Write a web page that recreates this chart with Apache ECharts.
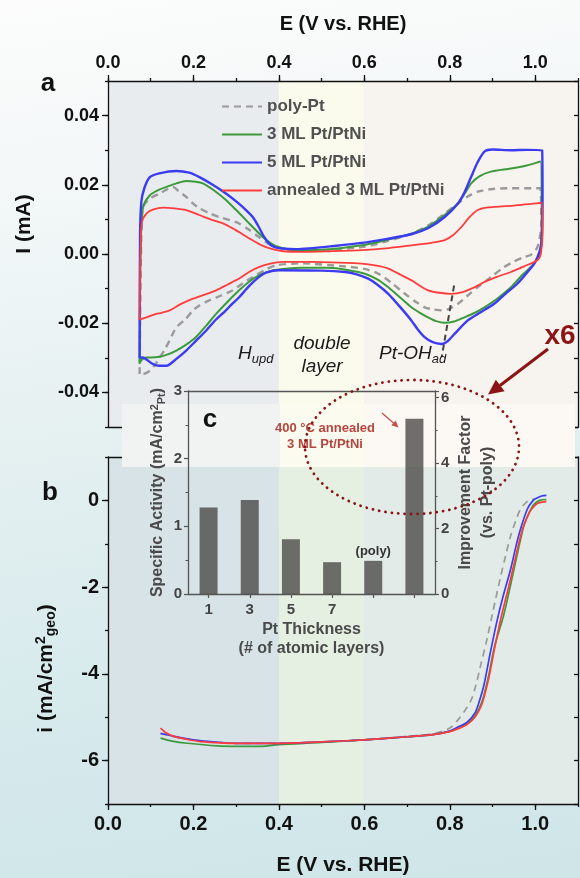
<!DOCTYPE html>
<html><head><meta charset="utf-8">
<script src="https://cdn.jsdelivr.net/npm/echarts@6/dist/echarts.min.js"></script>
<style>
html,body{margin:0;padding:0;}
#c{width:580px;height:878px;background:linear-gradient(172deg,#fcfcfc 0%,#f2f7f7 22%,#e3eff0 50%,#d6eaec 75%,#cfe5e8 100%);}
</style>
</head><body><div id="c"></div>
<script>
// ---------- DATA ----------
const seriesNames = ['poly-Pt', '3 ML Pt/PtNi', '5 ML Pt/PtNi', 'annealed 3 ML Pt/PtNi'];
const seriesColors = ['#9a9a9a', '#3c9a3c', '#3b3bf2', '#ff3c3c'];

// (a) cyclic voltammograms: [E (V vs RHE), I (mA)]
const cvPoly = [[0.074,-0.0347],[0.076,-0.010],[0.078,0.005],[0.082,0.0136],[0.098,0.0160],[0.121,0.0175],[0.14,0.0188],[0.152,0.0194],[0.165,0.0182],[0.183,0.0165],[0.2,0.0145],[0.214,0.0132],[0.237,0.0118],[0.26,0.0107],[0.285,0.0098],[0.307,0.0088],[0.33,0.0070],[0.353,0.0049],[0.375,0.0030],[0.392,0.0020],[0.42,0.0013],[0.477,0.0011],[0.594,0.0020],[0.65,0.0036],[0.71,0.0059],[0.75,0.0083],[0.788,0.0117],[0.819,0.0146],[0.84,0.0165],[0.865,0.0180],[0.9,0.0188],[0.943,0.0190],[1.012,0.0190],[1.014,0.008],[1.005,0.002],[0.99,-0.0002],[0.973,-0.0009],[0.95,-0.0022],[0.927,-0.0038],[0.90,-0.0063],[0.865,-0.0096],[0.84,-0.0122],[0.819,-0.0144],[0.80,-0.0158],[0.78,-0.0163],[0.76,-0.0160],[0.741,-0.0154],[0.72,-0.0138],[0.695,-0.0115],[0.665,-0.0085],[0.633,-0.0057],[0.6,-0.0043],[0.555,-0.0036],[0.45,-0.0027],[0.392,-0.0033],[0.365,-0.0048],[0.338,-0.0067],[0.315,-0.0085],[0.292,-0.0105],[0.265,-0.0120],[0.237,-0.0134],[0.215,-0.0148],[0.199,-0.0163],[0.18,-0.0190],[0.16,-0.0212],[0.144,-0.0250],[0.132,-0.0278],[0.121,-0.0299],[0.11,-0.0320],[0.098,-0.0337],[0.082,-0.0347],[0.074,-0.0347]];
const cv3ML = [[0.074,-0.0318],[0.076,0.0],[0.079,0.010],[0.083,0.0140],[0.098,0.0170],[0.12,0.0186],[0.137,0.0194],[0.16,0.0204],[0.183,0.0211],[0.205,0.0209],[0.222,0.0204],[0.25,0.0182],[0.276,0.0156],[0.30,0.0127],[0.323,0.0098],[0.345,0.0070],[0.362,0.0049],[0.38,0.0032],[0.392,0.0023],[0.42,0.0014],[0.447,0.0011],[0.52,0.0014],[0.594,0.0025],[0.65,0.0040],[0.71,0.0059],[0.745,0.0076],[0.772,0.0098],[0.80,0.0125],[0.819,0.0146],[0.835,0.0175],[0.85,0.0204],[0.87,0.0225],[0.896,0.0238],[0.943,0.0247],[0.98,0.0256],[1.012,0.0267],[1.015,0.012],[1.012,0.001],[0.997,-0.0028],[0.97,-0.0060],[0.943,-0.0096],[0.91,-0.0130],[0.881,-0.0154],[0.855,-0.0172],[0.834,-0.0183],[0.81,-0.0195],[0.788,-0.0199],[0.768,-0.0194],[0.749,-0.0183],[0.73,-0.0170],[0.71,-0.0154],[0.685,-0.0127],[0.656,-0.0096],[0.63,-0.0073],[0.601,-0.0057],[0.56,-0.0046],[0.516,-0.0040],[0.45,-0.0040],[0.40,-0.0045],[0.37,-0.0053],[0.353,-0.0062],[0.33,-0.0080],[0.307,-0.0105],[0.28,-0.0138],[0.253,-0.0173],[0.23,-0.0207],[0.206,-0.0240],[0.183,-0.0262],[0.16,-0.0279],[0.14,-0.0290],[0.121,-0.0297],[0.10,-0.0299],[0.09,-0.0299],[0.08,-0.0305],[0.074,-0.0315]];
const cv5ML = [[0.074,-0.0300],[0.075,0.005],[0.078,0.015],[0.085,0.0190],[0.098,0.0222],[0.12,0.0233],[0.16,0.0240],[0.19,0.0235],[0.214,0.0222],[0.245,0.0200],[0.276,0.0175],[0.30,0.0152],[0.323,0.0127],[0.34,0.0105],[0.353,0.0078],[0.365,0.0050],[0.377,0.0030],[0.39,0.0020],[0.407,0.0016],[0.44,0.0014],[0.47,0.0016],[0.52,0.0022],[0.594,0.0032],[0.65,0.0043],[0.71,0.0057],[0.75,0.0075],[0.788,0.0107],[0.819,0.0146],[0.835,0.0180],[0.85,0.0223],[0.865,0.0265],[0.881,0.0296],[0.90,0.0302],[0.943,0.0300],[0.98,0.0301],[1.016,0.0300],[1.017,0.015],[1.014,0.003],[1.0,-0.0023],[0.98,-0.0055],[0.958,-0.0086],[0.93,-0.0115],[0.904,-0.0144],[0.87,-0.0170],[0.842,-0.0192],[0.811,-0.0231],[0.795,-0.0252],[0.78,-0.0260],[0.76,-0.0255],[0.741,-0.0240],[0.725,-0.0218],[0.71,-0.0192],[0.685,-0.0155],[0.656,-0.0115],[0.63,-0.0088],[0.609,-0.0071],[0.58,-0.0058],[0.555,-0.0052],[0.5,-0.0048],[0.4,-0.0047],[0.37,-0.0054],[0.353,-0.0067],[0.33,-0.0093],[0.307,-0.0125],[0.29,-0.0145],[0.276,-0.0163],[0.25,-0.0193],[0.23,-0.0221],[0.205,-0.0252],[0.183,-0.0279],[0.16,-0.0303],[0.137,-0.0323],[0.12,-0.0323],[0.105,-0.0318],[0.09,-0.0305],[0.082,-0.0299],[0.074,-0.0300]];
const cvAnnealed = [[0.074,-0.0190],[0.075,-0.005],[0.077,0.005],[0.080,0.0095],[0.09,0.0117],[0.105,0.0128],[0.129,0.0134],[0.155,0.0132],[0.183,0.0127],[0.215,0.0112],[0.245,0.0098],[0.27,0.0088],[0.292,0.0074],[0.315,0.0057],[0.338,0.0040],[0.36,0.0025],[0.385,0.0014],[0.41,0.0008],[0.447,0.0006],[0.52,0.0008],[0.594,0.0011],[0.65,0.0016],[0.71,0.0025],[0.76,0.0033],[0.788,0.0040],[0.808,0.0055],[0.827,0.0078],[0.845,0.0105],[0.865,0.0127],[0.885,0.0134],[0.904,0.0136],[0.95,0.0140],[0.99,0.0145],[1.016,0.0148],[1.017,0.006],[1.013,0.0],[1.005,-0.0018],[0.975,-0.0035],[0.943,-0.0052],[0.91,-0.0066],[0.881,-0.0081],[0.86,-0.0095],[0.83,-0.0110],[0.803,-0.0115],[0.775,-0.0112],[0.749,-0.0105],[0.73,-0.0092],[0.71,-0.0076],[0.685,-0.0060],[0.656,-0.0042],[0.625,-0.0033],[0.594,-0.0028],[0.54,-0.0025],[0.477,-0.0023],[0.408,-0.0023],[0.38,-0.0028],[0.353,-0.0038],[0.33,-0.0052],[0.307,-0.0071],[0.28,-0.0088],[0.253,-0.0105],[0.225,-0.0118],[0.199,-0.0129],[0.17,-0.0145],[0.144,-0.0163],[0.125,-0.0170],[0.113,-0.0173],[0.09,-0.0183],[0.074,-0.0190]];
const ptOHPeakGuide = [[0.81,-0.0091],[0.781,-0.0298]];

// (b) ORR polarization curves: [E (V vs RHE), i (mA/cm2 geo)]
const lsvPoly = [[0.123,-5.38],[0.17,-5.48],[0.24,-5.57],[0.3,-5.6],[0.4,-5.6],[0.5,-5.57],[0.6,-5.52],[0.7,-5.44],[0.76,-5.38],[0.8,-5.25],[0.82,-5.05],[0.835,-4.85],[0.85,-4.6],[0.86,-4.3],[0.871,-3.85],[0.887,-3.2],[0.9,-2.6],[0.919,-1.75],[0.93,-1.3],[0.942,-0.83],[0.955,-0.45],[0.965,-0.21],[0.978,-0.05],[0.989,0.016],[1.0,0.03]];
const lsv3ML = [[0.123,-5.48],[0.15,-5.55],[0.186,-5.6],[0.256,-5.66],[0.3,-5.67],[0.357,-5.67],[0.4,-5.63],[0.5,-5.58],[0.6,-5.52],[0.7,-5.45],[0.76,-5.4],[0.8,-5.32],[0.82,-5.25],[0.84,-5.15],[0.86,-4.95],[0.875,-4.65],[0.89,-4.08],[0.905,-3.35],[0.926,-2.65],[0.95,-1.6],[0.973,-0.6],[0.985,-0.3],[0.996,-0.1],[1.01,0.0],[1.026,0.02]];
const lsv5ML = [[0.123,-5.37],[0.15,-5.43],[0.17,-5.47],[0.2,-5.52],[0.24,-5.56],[0.3,-5.6],[0.4,-5.6],[0.5,-5.57],[0.6,-5.52],[0.7,-5.45],[0.76,-5.4],[0.8,-5.32],[0.82,-5.22],[0.84,-5.12],[0.86,-4.88],[0.87,-4.6],[0.88,-4.25],[0.895,-3.5],[0.91,-2.8],[0.925,-2.2],[0.942,-1.6],[0.955,-1.05],[0.965,-0.68],[0.981,-0.21],[0.995,0.0],[1.004,0.055],[1.015,0.1],[1.026,0.115]];
const lsvAnnealed = [[0.123,-5.25],[0.135,-5.35],[0.154,-5.44],[0.18,-5.5],[0.217,-5.56],[0.3,-5.6],[0.4,-5.6],[0.5,-5.57],[0.6,-5.52],[0.7,-5.45],[0.76,-5.4],[0.8,-5.33],[0.82,-5.26],[0.84,-5.17],[0.86,-4.98],[0.875,-4.7],[0.89,-4.15],[0.905,-3.4],[0.92,-2.7],[0.935,-2.1],[0.946,-1.65],[0.969,-0.7],[0.985,-0.3],[0.993,-0.18],[1.005,-0.07],[1.026,-0.03]];

// shaded potential regions (Hupd / double layer / Pt-OHad)
const regionBounds = [[0, 0.4], [0.4, 0.6], [0.6, 1.1]];

// (c) inset bars
const insetCategories = ['1', '3', '5', '7', '', ''];
const specificActivity = [1.28, 1.39, 0.81, 0.47, 0.49, 2.59];
const insetBarNotes = ['', '', '', '', '(poly)', ''];

// tick values
const aLabelTicks = [-0.04, -0.02, 0, 0.02, 0.04];
const bLabelTicks = [-6, -4, -2, 0];

// ---------- CHART ----------
const FONT = '"Liberation Sans", Arial, Helvetica, sans-serif';
const INK = '#111';
const chart = echarts.init(document.getElementById('c'), null, {renderer: 'canvas'});

const grids = [
  {left: 108, top: 81, width: 470, height: 346},
  {left: 108, top: 457, width: 470, height: 347},
  {left: 188, top: 391, width: 247, height: 203}
];

function lineStyleAx(c, w) { return {color: c || INK, width: w || 1.3}; }
function bare(extra) {
  return Object.assign({type: 'value', z: 4, axisLine: {show: false, onZero: false}, axisTick: {show: false}, axisLabel: {show: false}, splitLine: {show: false}}, extra);
}
const lblA = {fontFamily: FONT, fontWeight: 'bold', color: INK};

function shade(xi, yi, colors) {
  return {
    type: 'custom', xAxisIndex: xi, yAxisIndex: yi, z: 1, silent: true,
    data: regionBounds.map((b, i) => [b[0], b[1], i]),
    encode: {x: [0, 1]},
    renderItem: function (params, api) {
      const cs = params.coordSys;
      const x0 = api.coord([api.value(0), 0])[0];
      const x1 = api.coord([api.value(1), 0])[0];
      return {type: 'rect', shape: {x: x0, y: cs.y, width: x1 - x0, height: cs.height}, style: {fill: colors[api.value(2)]}};
    }
  };
}

const cvData = [cvPoly, cv3ML, cv5ML, cvAnnealed];
const lsvData = [lsvPoly, lsv3ML, lsv5ML, lsvAnnealed];
const widthsA = [2.4, 2, 2.4, 1.8];

const series = [
  shade(0, 0, ['#e8ecee', '#fafbec', '#f7f3ef']),
  shade(3, 3, ['#d7e3e6', '#e5efe2', '#e2ebe8'])
];
seriesNames.forEach((n, i) => {
  series.push({
    name: n, type: 'line', xAxisIndex: 0, yAxisIndex: 0, data: cvData[i], z: 3,
    symbol: 'none', showSymbol: false, smooth: 0.25, color: seriesColors[i],
    lineStyle: {color: seriesColors[i], width: widthsA[i], type: i === 0 ? [7, 5] : 'solid'}
  });
});
seriesNames.forEach((n, i) => {
  series.push({
    name: n, type: 'line', xAxisIndex: 3, yAxisIndex: 3, data: lsvData[i], z: 3,
    symbol: 'none', showSymbol: false, smooth: 0.3, color: seriesColors[i],
    lineStyle: {color: seriesColors[i], width: 1.7, type: i === 0 ? [7, 5] : 'solid'}
  });
});
series.push({
  name: 'Pt-OHad peak', type: 'line', xAxisIndex: 0, yAxisIndex: 0, data: ptOHPeakGuide, z: 3,
  symbol: 'none', color: '#444', lineStyle: {color: '#444', width: 2, type: [6, 4]}
});
series.push({
  name: 'Specific Activity', type: 'bar', xAxisIndex: 6, yAxisIndex: 6, z: 6, barWidth: 18,
  itemStyle: {color: 'rgba(72,70,68,0.78)'},
  data: specificActivity.map((v, i) => insetBarNotes[i] ? {
    value: v, label: {show: true, position: 'top', distance: 3, formatter: insetBarNotes[i],
      fontFamily: FONT, fontWeight: 'bold', fontSize: 13, color: '#333'}
  } : v)
});

const option = {
  backgroundColor: 'transparent',
  animation: false,
  grid: grids.map(g => Object.assign({show: false}, g)),
  legend: {
    data: seriesNames, orient: 'vertical', left: 216, top: 93, itemWidth: 40, itemHeight: 14, itemGap: 11,
    itemStyle: {opacity: 0},
    textStyle: {fontFamily: FONT, fontWeight: 'bold', fontSize: 17, color: '#505050'},
    selectedMode: false
  },
  xAxis: [
    {gridIndex: 0, type: 'value', position: 'top', min: 0, max: 1.1, interval: 0.2, z: 4,
      axisLine: {show: true, onZero: false, lineStyle: lineStyleAx()},
      axisTick: {show: true, inside: false, length: 6, lineStyle: lineStyleAx()},
      axisLabel: Object.assign({showMaxLabel: false, margin: 9, fontSize: 18, formatter: v => v.toFixed(1)}, lblA),
      splitLine: {show: false},
      name: 'E (V vs. RHE)', nameLocation: 'middle', nameGap: 47,
      nameTextStyle: {fontFamily: FONT, fontWeight: 'bold', fontSize: 20, color: INK}},
    bare({gridIndex: 0, position: 'top', min: 0, max: 1.1, interval: 0.1, axisTick: {show: true, length: 3, lineStyle: lineStyleAx()}}),
    bare({gridIndex: 0, position: 'bottom', min: 0, max: 1.1, axisLine: {show: true, onZero: false, lineStyle: lineStyleAx()}}),
    {gridIndex: 1, type: 'value', position: 'bottom', min: 0, max: 1.1, interval: 0.2, z: 4,
      axisLine: {show: true, onZero: false, lineStyle: lineStyleAx()},
      axisTick: {show: true, inside: false, length: 6, lineStyle: lineStyleAx()},
      axisLabel: Object.assign({showMaxLabel: false, margin: 10, fontSize: 20, formatter: v => v.toFixed(1)}, lblA),
      splitLine: {show: false},
      name: 'E (V vs. RHE)', nameLocation: 'middle', nameGap: 51,
      nameTextStyle: {fontFamily: FONT, fontWeight: 'bold', fontSize: 21, color: INK}},
    bare({gridIndex: 1, position: 'bottom', min: 0, max: 1.1, interval: 0.1, axisTick: {show: true, length: 3, lineStyle: lineStyleAx()}}),
    bare({gridIndex: 1, position: 'top', min: 0, max: 1.1, axisLine: {show: true, onZero: false, lineStyle: lineStyleAx()}}),
    {gridIndex: 2, type: 'category', data: insetCategories, position: 'bottom', z: 6,
      axisLine: {show: true, onZero: false, lineStyle: lineStyleAx('#555', 1.3)},
      axisTick: {show: true, alignWithLabel: true, inside: false, length: 4, lineStyle: lineStyleAx('#555', 1.2)},
      axisLabel: {margin: 8, fontFamily: FONT, fontWeight: 'bold', fontSize: 15, color: '#444'},
      name: 'Pt Thickness\n(# of atomic layers)', nameLocation: 'middle', nameGap: 26,
      nameTextStyle: {fontFamily: FONT, fontWeight: 'bold', fontSize: 16, color: '#4a4a4a', lineHeight: 19}},
    {gridIndex: 2, type: 'category', data: insetCategories, position: 'top', z: 6,
      axisLine: {show: true, onZero: false, lineStyle: lineStyleAx('#555', 1.3)},
      axisTick: {show: false}, axisLabel: {show: false}}
  ],
  yAxis: [
    {gridIndex: 0, type: 'value', position: 'left', min: -0.05, max: 0.05, interval: 0.01, z: 4,
      axisLine: {show: true, onZero: false, lineStyle: lineStyleAx()},
      axisTick: {show: true, inside: false, length: 6, customValues: aLabelTicks, lineStyle: lineStyleAx()},
      axisLabel: Object.assign({margin: 9, fontSize: 18, customValues: aLabelTicks, formatter: v => v.toFixed(2)}, lblA),
      splitLine: {show: false},
      name: 'I (mA)', nameLocation: 'middle', nameGap: 73,
      nameTextStyle: {fontFamily: FONT, fontWeight: 'bold', fontSize: 21, color: INK, padding: [0, 0, 0, 60]}},
    bare({gridIndex: 0, position: 'left', min: -0.05, max: 0.05, interval: 0.01, axisTick: {show: true, length: 3, lineStyle: lineStyleAx()}}),
    bare({gridIndex: 0, position: 'right', min: -0.05, max: 0.05, interval: 0.01,
      axisLine: {show: true, onZero: false, lineStyle: lineStyleAx()},
      axisTick: {show: true, inside: true, length: 4, lineStyle: lineStyleAx()}}),
    {gridIndex: 1, type: 'value', position: 'left', min: -7, max: 1, interval: 1, z: 4,
      axisLine: {show: true, onZero: false, lineStyle: lineStyleAx()},
      axisTick: {show: true, inside: false, length: 6, customValues: bLabelTicks, lineStyle: lineStyleAx()},
      axisLabel: Object.assign({margin: 9, fontSize: 20, customValues: bLabelTicks, formatter: v => String(v)}, lblA),
      splitLine: {show: false},
      name: '{n|i (mA/cm}{sup|2}{sub|geo}{n|)}', nameLocation: 'middle', nameGap: 50,
      nameTextStyle: {fontFamily: FONT, fontWeight: 'bold', fontSize: 21, color: INK, padding: [0, 76, 0, 0],
        rich: {
          n: {fontFamily: FONT, fontWeight: 'bold', fontSize: 21, color: INK, lineHeight: 24, padding: [4, 0, 4, 0]},
          sup: {fontFamily: FONT, fontWeight: 'bold', fontSize: 14, color: INK, lineHeight: 14, verticalAlign: 'top'},
          sub: {fontFamily: FONT, fontWeight: 'bold', fontSize: 14, color: INK, lineHeight: 14, verticalAlign: 'bottom'}
        }}},
    bare({gridIndex: 1, position: 'left', min: -7, max: 1, interval: 1, axisTick: {show: true, length: 3, lineStyle: lineStyleAx()}}),
    bare({gridIndex: 1, position: 'right', min: -7, max: 1, interval: 1,
      axisLine: {show: true, onZero: false, lineStyle: lineStyleAx()},
      axisTick: {show: true, inside: true, length: 4, lineStyle: lineStyleAx()}}),
    {gridIndex: 2, type: 'value', position: 'left', min: 0, max: 3, interval: 1, z: 6,
      axisLine: {show: true, onZero: false, lineStyle: lineStyleAx('#555', 1.3)},
      axisTick: {show: true, inside: false, length: 4, lineStyle: lineStyleAx('#555', 1.2)},
      minorTick: {show: true, splitNumber: 2, length: 2.5, lineStyle: lineStyleAx('#555', 1)},
      axisLabel: {margin: 6, fontFamily: FONT, fontWeight: 'bold', fontSize: 15, color: '#444'},
      splitLine: {show: false},
      name: '{n|Specific Activity (mA/cm}{sup|2}{sub|Pt}{n|)}', nameLocation: 'middle', nameGap: 21,
      nameTextStyle: {fontFamily: FONT, fontWeight: 'bold', fontSize: 16, color: '#4a4a4a',
        rich: {
          n: {fontFamily: FONT, fontWeight: 'bold', fontSize: 16, color: '#4a4a4a', lineHeight: 18, padding: [3, 0, 3, 0]},
          sup: {fontFamily: FONT, fontWeight: 'bold', fontSize: 11, color: '#4a4a4a', lineHeight: 11, verticalAlign: 'top'},
          sub: {fontFamily: FONT, fontWeight: 'bold', fontSize: 11, color: '#4a4a4a', lineHeight: 11, verticalAlign: 'bottom'}
        }}},
    {gridIndex: 2, type: 'value', position: 'right', min: 0, max: 6.2, interval: 2, z: 6,
      axisLine: {show: true, onZero: false, lineStyle: lineStyleAx('#555', 1.3)},
      axisTick: {show: true, inside: false, length: 4, lineStyle: lineStyleAx('#555', 1.2)},
      minorTick: {show: true, splitNumber: 2, length: 2.5, lineStyle: lineStyleAx('#555', 1)},
      axisLabel: {margin: 6, showMaxLabel: false, fontFamily: FONT, fontWeight: 'bold', fontSize: 15, color: '#444'},
      splitLine: {show: false},
      name: 'Improvement Factor\n(vs. Pt-poly)', nameLocation: 'middle', nameGap: 20,
      nameTextStyle: {fontFamily: FONT, fontWeight: 'bold', fontSize: 16, color: '#4a4a4a', lineHeight: 22}}
  ],
  series: series,
  graphic: {elements: [
    {type: 'rect', z: 5, silent: true, shape: {x: 122, y: 404, width: 158, height: 63}, style: {fill: '#f1f2f2'}},
    {type: 'rect', z: 5, silent: true, shape: {x: 280, y: 404, width: 86, height: 63}, style: {fill: '#fbfbef'}},
    {type: 'rect', z: 5, silent: true, shape: {x: 366, y: 404, width: 209, height: 63}, style: {fill: '#fcf8f3'}},
    {type: 'text', z: 8, x: 48, y: 84, style: {text: 'a', font: 'bold 26px ' + FONT, fill: INK, align: 'center', verticalAlign: 'middle'}},
    {type: 'text', z: 8, x: 50, y: 493, style: {text: 'b', font: 'bold 26px ' + FONT, fill: INK, align: 'center', verticalAlign: 'middle'}},
    {type: 'text', z: 8, x: 210, y: 420, style: {text: 'c', font: 'bold 26px ' + FONT, fill: INK, align: 'center', verticalAlign: 'middle'}},
    {type: 'text', z: 8, x: 238, y: 344, style: {text: '{m|H}{s|upd}', align: 'left', verticalAlign: 'top',
      rich: {m: {font: 'italic 19px ' + FONT, fill: '#1a1a1a', lineHeight: 22, verticalAlign: 'top', padding: [0, 0, 4, 0]},
             s: {font: 'italic 13px ' + FONT, fill: '#1a1a1a', lineHeight: 14, verticalAlign: 'bottom'}}}},
    {type: 'text', z: 8, x: 322, y: 355, style: {text: 'double\nlayer', font: 'italic 19px ' + FONT, fill: '#1a1a1a', align: 'center', verticalAlign: 'middle', lineHeight: 23}},
    {type: 'text', z: 8, x: 379, y: 344, style: {text: '{m|Pt-OH}{s|ad}', align: 'left', verticalAlign: 'top',
      rich: {m: {font: 'italic 19px ' + FONT, fill: '#1a1a1a', lineHeight: 22, verticalAlign: 'top', padding: [0, 0, 4, 0]},
             s: {font: 'italic 13px ' + FONT, fill: '#1a1a1a', lineHeight: 14, verticalAlign: 'bottom'}}}},
    {type: 'text', z: 8, x: 325, y: 436, style: {text: '400 \u00b0C annealed\n3 ML Pt/PtNi', font: 'bold 13px ' + FONT, fill: '#b5463f', align: 'center', verticalAlign: 'middle', lineHeight: 16}},
    {type: 'line', z: 8, shape: {x1: 382, y1: 413, x2: 394, y2: 423.5}, style: {stroke: '#c0504d', lineWidth: 1.2}},
    {type: 'polygon', z: 8, shape: {points: [[398.5, 427.5], [391.3, 425.2], [395.7, 420.5]]}, style: {fill: '#c0504d'}},
    {type: 'ellipse', z: 8, silent: true, shape: {cx: 412, cy: 447, rx: 107, ry: 67},
      style: {fill: 'none', stroke: '#8b1414', lineWidth: 2.8, lineDash: [0.1, 6.3], lineCap: 'round'}},
    {type: 'text', z: 8, x: 560, y: 336, style: {text: 'x6', font: 'bold 28px ' + FONT, fill: '#8b1414', align: 'center', verticalAlign: 'middle'}},
    {type: 'line', z: 8, shape: {x1: 548, y1: 349, x2: 500, y2: 385.5}, style: {stroke: '#8b1414', lineWidth: 3}},
    {type: 'polygon', z: 8, shape: {points: [[488, 394.5], [504.6, 391.3], [495.8, 379.7]]}, style: {fill: '#8b1414'}}
  ]}
};
chart.setOption(option);
</script>
</body></html>
